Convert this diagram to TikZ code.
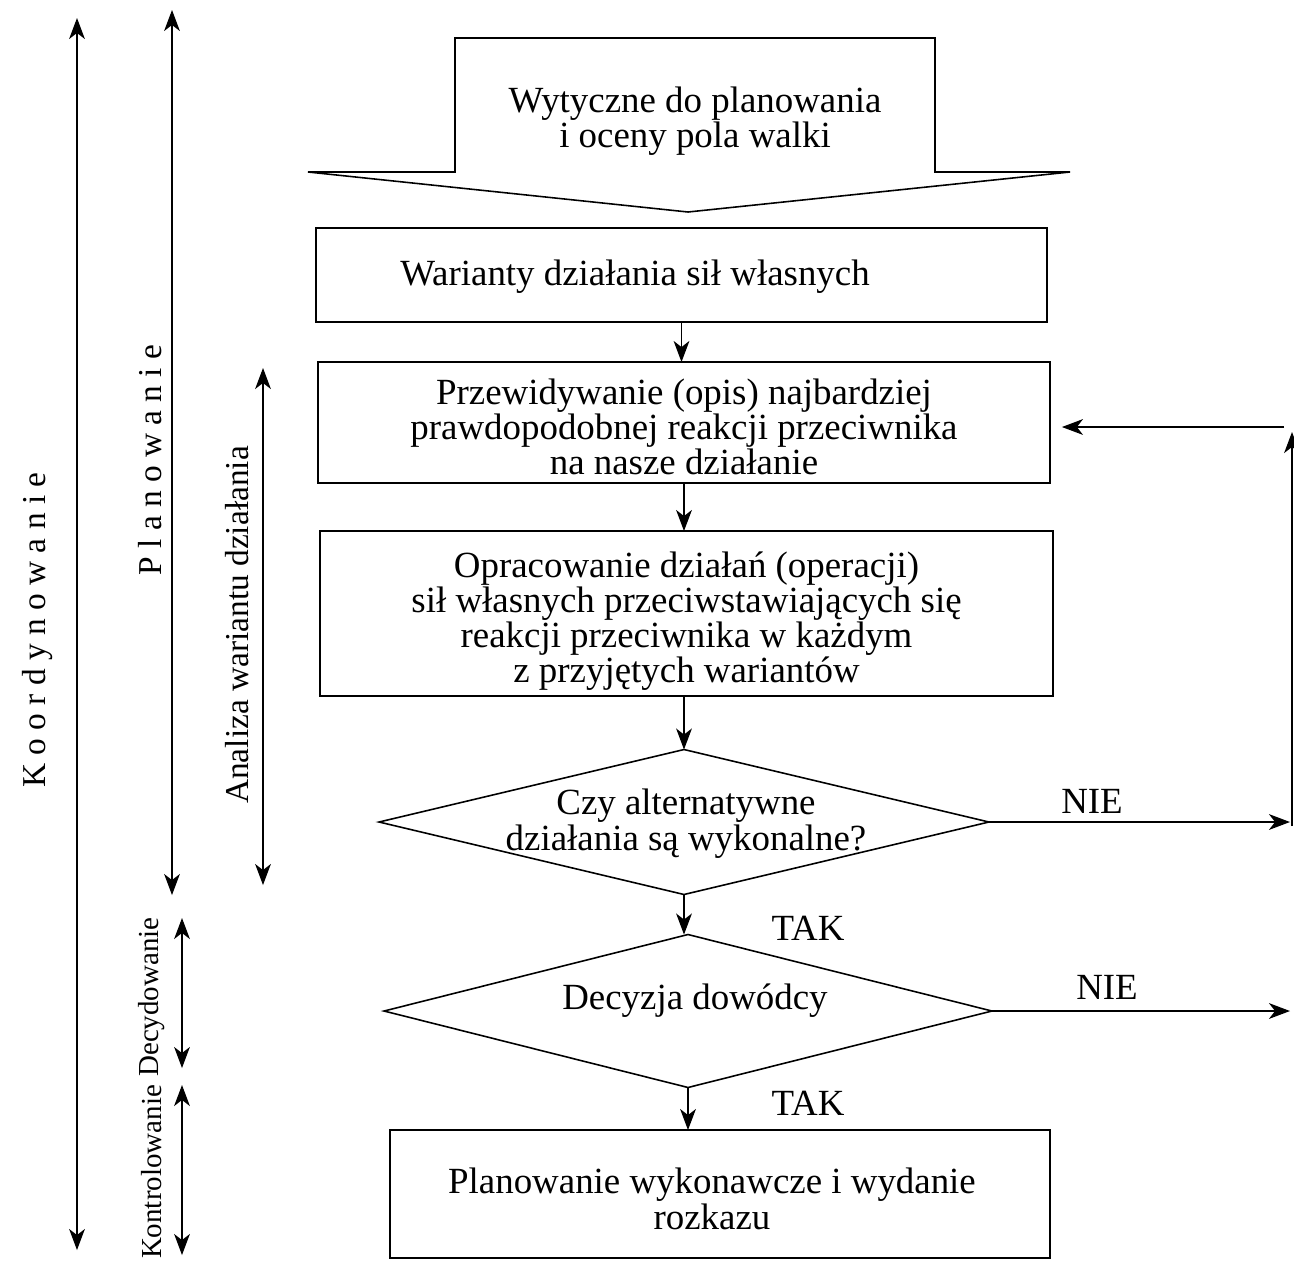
\documentclass[tikz,border=0pt]{standalone}
\usepackage{fontspec}
\setmainfont{Liberation Serif}
\usetikzlibrary{arrows.meta,shapes.geometric}
\newcommand\mfs{\fontsize{21pt}{19.8pt}\selectfont}
\newcommand\lfs{\fontsize{19pt}{21pt}\selectfont}
\newcommand\sfs{\fontsize{16.5pt}{18pt}\selectfont}
\begin{document}
\begin{tikzpicture}[x=0.02cm,y=-0.02cm,
  box/.style={draw, line width=0.9pt, inner sep=0pt, outer sep=0pt},
  dia/.style={draw, diamond, line width=0.9pt, inner sep=0pt, outer sep=0pt},
  txt/.style={align=center, font=\mfs, inner sep=0pt},
  side/.style={rotate=90, font=\lfs, inner sep=0pt},
  sidesmall/.style={rotate=90, font=\sfs, inner sep=0pt},
  tip/.tip={Stealth[length=12pt,width=9pt,inset=3.5pt]},
  flow/.style={-tip, line width=0.7pt},
  span/.style={tip-tip, line width=0.6pt}]
\useasboundingbox (0,0) rectangle (1294,1262);

% top block arrow
\coordinate (t1) at (455,38);
\coordinate (t2) at (935,38);
\coordinate (t3) at (935,172);
\coordinate (t4) at (1070,172);
\coordinate (t5) at (688,212);
\coordinate (t6) at (308,172);
\coordinate (t7) at (455,172);
\draw[line width=0.9pt] (t7) -- (t1) -- (t2) -- (t3) -- (t4) -- (t5) -- (t6) -- cycle;
\node[txt, font=\fontsize{21pt}{17pt}\selectfont] (top) at (695,121) {Wytyczne do planowania\\i oceny pola walki};

% boxes
\node[box, minimum width=14.62cm, minimum height=1.88cm] (b1) at (681.5,275) {};
\node[txt, anchor=west] (b1t) at (400,277) {Warianty działania sił własnych};
\node[box, minimum width=14.64cm, minimum height=2.42cm] (b2) at (684,422.5) {};
\node[txt, font=\fontsize{21pt}{19pt}\selectfont] (b2t) at (684,427)
  {Przewidywanie (opis) najbardziej\\prawdopodobnej reakcji przeciwnika\\na nasze działanie};
\node[box, minimum width=14.66cm, minimum height=3.3cm] (b3) at (686.5,613.5) {};
\node[txt] (b3t) at (686.5,621)
  {Opracowanie działań (operacji)\\sił własnych przeciwstawiających się\\reakcji przeciwnika w każdym\\z przyjętych wariantów};
\node[dia, minimum width=12.2cm, minimum height=2.9cm] (d1) at (684,822) {};
\node[txt, font=\fontsize{21pt}{20.4pt}\selectfont] (d1t) at (686,824) {Czy alternatywne\\działania są wykonalne?};
\node[dia, minimum width=12.16cm, minimum height=3.06cm] (d2) at (688,1011) {};
\node[txt] (d2t) at (695,1001) {Decyzja dowódcy};
\node[box, minimum width=13.2cm, minimum height=2.56cm] (b4) at (720,1194) {};
\node[txt, font=\fontsize{21pt}{18pt}\selectfont] (b4t) at (712,1199)
  {Planowanie wykonawcze i wydanie\\rozkazu};

% flow arrows
\draw[flow] (b1.south) -- (b1.south |- b2.north);
\draw[flow] (b2.south -| d1.north) -- (b3.north -| d1.north);
\draw[flow] (d1.north |- b3.south) -- (d1.north);
\draw[flow] (d1.south) -- (d1.south |- d2.north);
\draw[flow] (d2.south) -- (d2.south |- b4.north);

\node[txt] (tak1) at (808,928) {TAK};
\node[txt] (tak2) at (808,1103) {TAK};
\node[txt] (nie1) at (1092,801) {NIE};
\node[txt] (nie2) at (1107,987) {NIE};

% right loop
\coordinate (r1) at (1290,822);
\coordinate (r2) at (1292,826);
\coordinate (r3) at (1292,432);
\coordinate (r4) at (1284,427);
\coordinate (r5) at (1290,1011);
\draw[flow] (d1.east) -- (r1);
\draw[flow] (d2.east) -- (r5);
\draw[flow] (r2) -- (r3);
\draw[flow, shorten >=0.24cm] (r4) -- (b2.east |- r4);

% left spans
\coordinate (k1) at (77,18);   \coordinate (k2) at (77,1250);
\coordinate (p1) at (172,10);  \coordinate (p2) at (172,895);
\coordinate (a1) at (263,368); \coordinate (a2) at (263,885);
\coordinate (e1) at (182,918); \coordinate (e2) at (182,1068);
\coordinate (c1) at (182,1085);\coordinate (c2) at (182,1255);
\draw[span] (k1) -- (k2);
\draw[span] (p1) -- (p2);
\draw[span] (a1) -- (a2);
\draw[span] (e1) -- (e2);
\draw[span] (c1) -- (c2);
\node[side] (lk) at (38,630) {K o o r d y n o w a n i e};
\node[side] (lp) at (150,460) {P l a n o w a n i e};
\node[side] (la) at (237,625) {Analiza wariantu działania};
\node[sidesmall] (ld) at (152,997) {Decydowanie};
\node[sidesmall] (lc) at (152,1172) {Kontrolowanie};
\end{tikzpicture}
\end{document}
